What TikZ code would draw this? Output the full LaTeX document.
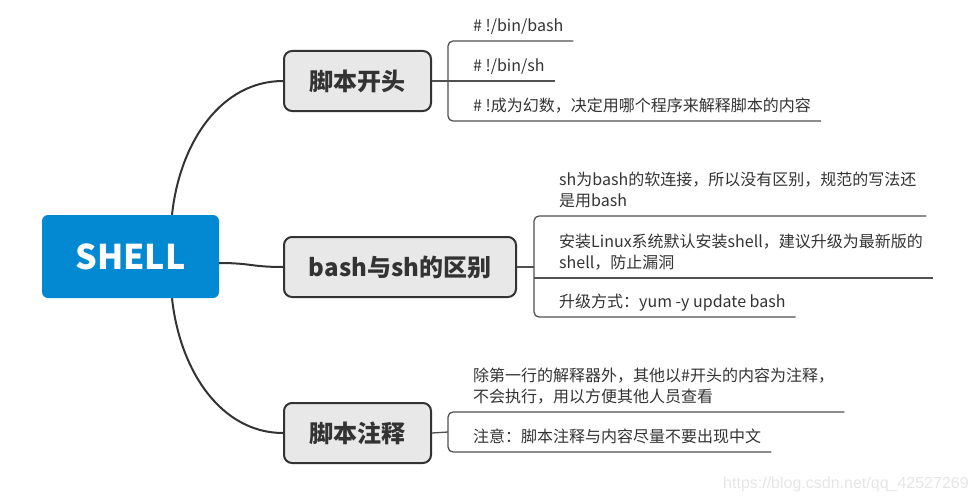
\documentclass[tikz,border=0pt]{standalone}
\usepackage{fontspec}
\setmainfont{Noto Sans CJK SC}
\newfontfamily\urlfont{Liberation Sans}
\definecolor{colroot}{RGB}{3,137,209}
\definecolor{coltopic}{RGB}{232,232,232}
\definecolor{colline}{RGB}{51,51,51}
\definecolor{colbranch}{RGB}{80,80,80}
\definecolor{coltext}{RGB}{51,51,51}
\tikzset{
  root/.style={rectangle, rounded corners=6pt, fill=colroot, text=white, minimum width=177pt, minimum height=83pt, inner sep=0pt, font=\bfseries\fontsize{34}{34}\selectfont},
  topic/.style={rectangle, rounded corners=8pt, draw=colline, line width=2pt, fill=coltopic, text=coltext, minimum height=60pt, inner sep=0pt, anchor=west, font=\bfseries\fontsize{24}{24}\selectfont},
  leaf/.style={anchor=south west, inner xsep=0pt, inner ysep=6pt, text depth=3pt, align=left, text=coltext, font=\fontsize{16}{21}\selectfont},
  link/.style={colline, line width=2pt},
  branch/.style={colbranch, line width=1.3pt, rounded corners=5pt},
  csdn stamp/.style={anchor=west, inner sep=0pt, text=black!10, font=\urlfont\fontsize{16}{16}\selectfont},
}

\begin{document}
\begin{tikzpicture}[x=1pt, y=-1pt]
  \useasboundingbox (0,0) rectangle (976,503);

  % ---- root and main topics
  \node[root] (root) at (130.5,256.5) {SHELL};
  \node[topic, minimum width=147pt] (t1) at (283,81)  {脚本开头};
  \node[topic, minimum width=232pt] (t2) at (283,267) {bash与sh的区别};
  \node[topic, minimum width=147pt] (t3) at (283,433) {脚本注释};

  % ---- curved links from the root
  \draw[link] ([xshift=41.5pt]root.north) .. controls +(8,-74) and +(-61,0) .. (t1.west);
  \draw[link] ([yshift=-6.5pt]root.east) .. controls +(32,0) and +(-32,0) .. (t2.west);
  \draw[link] ([xshift=41.5pt]root.south) .. controls +(8,74) and +(-61,0) .. (t3.west);

  % ---- leaves, the node bottom is the underline
  \coordinate (k1) at (448,81);
  \node[leaf] (a1) at (473,41)  {\# !/bin/bash};
  \node[leaf] (a2) at (473,81)  {\# !/bin/sh};
  \node[leaf] (a3) at (473,121) {\# !成为幻数，决定用哪个程序来解释脚本的内容};

  \coordinate (k2) at (534,267);
  \node[leaf] (b1) at (559,216) {sh为bash的软连接，所以没有区别，规范的写法还\\是用bash};
  \node[leaf] (b2) at (559,278) {安装Linux系统默认安装shell，建议升级为最新版的\\shell，防止漏洞};
  \node[leaf] (b3) at (559,317) {升级方式：yum -y update bash};

  \coordinate (k3) at (448,432);
  \node[leaf] (c1) at (473,412) {除第一行的解释器外，其他以\#开头的内容为注释，\\不会执行，用以方便其他人员查看};
  \node[leaf] (c2) at (473,452) {注意：脚本注释与内容尽量不要出现中文};

  % ---- brackets and underlines
  \draw[branch] ([xshift=10pt]a1.south east) -- (k1 |- a1.south) -- (k1 |- a3.south) -- ([xshift=10pt]a3.south east);
  \draw[branch] (t1.east) -- ([xshift=10pt]a2.south east);

  \draw[branch] ([xshift=10pt]b1.south east) -- (k2 |- b1.south) -- (k2 |- b3.south) -- ([xshift=10pt]b3.south east);
  \draw[branch] (k2 |- b2.south) -- ([xshift=10pt]b2.south east);
  \draw[branch] (t2.east) -- (k2);

  \draw[branch] ([xshift=10pt]c1.south east) -- (k3 |- c1.south) -- (k3 |- c2.south) -- ([xshift=10pt]c2.south east);
  \draw[branch] (t3.east) -- (k3);

  % ---- watermark
  \node[csdn stamp] (url) at (723,484) {https://blog.csdn.net/qq\_42527269};

\end{tikzpicture}
\end{document}
